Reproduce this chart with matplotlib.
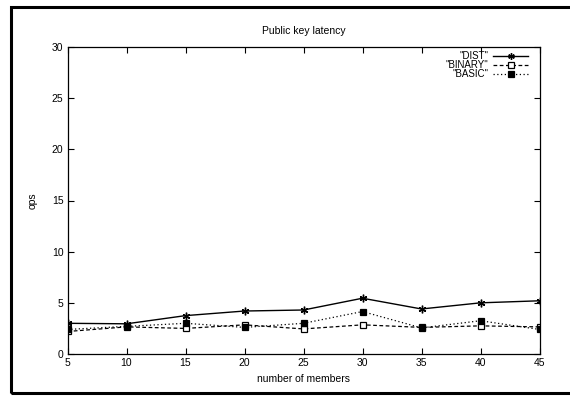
import numpy as np
import matplotlib.pyplot as plt
from matplotlib.patches import Rectangle

plt.rcParams["font.family"] = ["Liberation Sans", "DejaVu Sans"]

# Data
members = [5, 10, 15, 20, 25, 30, 35, 40, 45]
dist = [3.0, 2.95, 3.75, 4.2, 4.3, 5.45, 4.4, 5.0, 5.2]
binary = [2.2, 2.65, 2.5, 2.85, 2.45, 2.85, 2.6, 2.75, 2.65]
basic = [2.4, 2.7, 3.0, 2.6, 3.0, 4.15, 2.55, 3.25, 2.4]

fig = plt.figure(figsize=(5.70, 3.98), dpi=100)
W, H = 570, 398
ax = fig.add_axes([67.5 / W, 1 - 354 / H, 472 / W, 307 / H])

# outer frame (cut off on the right like the original)
fig.patches.append(Rectangle((11 / W, 1 - 393 / H), 1.0, (393 - 7) / H,
                             transform=fig.transFigure, fill=False,
                             edgecolor="black", linewidth=2.2, zorder=0))

ax.plot(members, dist, color="black", linewidth=1.0, marker=(6, 2, 0),
        markersize=5.5, markeredgewidth=1.0, label='"DIST"')
ax.plot(members, binary, color="black", linewidth=0.9, linestyle=(0, (3, 2)),
        marker="s", markersize=4.5, markerfacecolor="white",
        markeredgewidth=0.9, label='"BINARY"')
ax.plot(members, basic, color="black", linewidth=0.9, linestyle=(0, (1, 2)),
        marker="s", markersize=4.5, markerfacecolor="black",
        markeredgewidth=0.9, label='"BASIC"')

ax.set_xlim(5, 45)
ax.set_ylim(0, 30)
ax.set_xticks(members)
ax.set_yticks(range(0, 31, 5))
ax.tick_params(direction="in", length=4, width=0.8, labelsize=7.5,
               top=True, right=True, pad=3)
for s in ax.spines.values():
    s.set_linewidth(0.9)

ax.set_title("Public key latency", fontsize=7.5, pad=9)
ax.set_xlabel("number of members", fontsize=7.5, labelpad=4)
ax.set_ylabel("ops", fontsize=7.5, labelpad=10)

ax.legend(loc="upper right", frameon=False, fontsize=7, markerfirst=False,
          handlelength=3.6, handletextpad=0.5, labelspacing=-0.12,
          borderaxespad=0.0, borderpad=0.45, bbox_to_anchor=(0.985, 1.0),
          markerscale=0.85)

fig.savefig("out.png", dpi=100)
